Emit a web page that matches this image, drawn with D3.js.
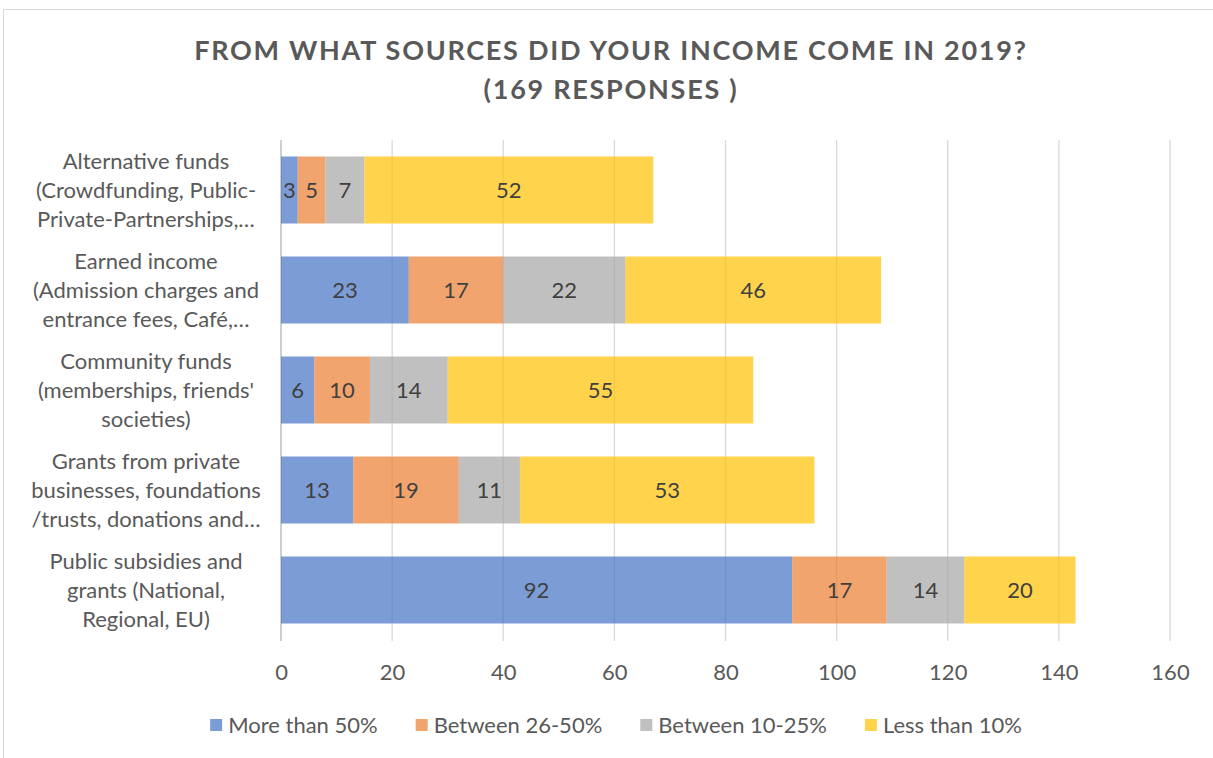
<!DOCTYPE html>
<html>
<head>
<meta charset="utf-8">
<script src="https://cdn.jsdelivr.net/npm/d3@7"></script>
<style>
  html, body { margin: 0; padding: 0; background: #ffffff; }
  svg { display: block; }
  text { font-family: Lato, "Open Sans", sans-serif; }
</style>
</head>
<body>
<svg id="chart" width="1213" height="758"></svg>
<script>
// Income sources, 2019 survey (169 responses)
const categories = [
  "Alternative funds (Crowdfunding, Public-Private-Partnerships,…",
  "Earned income (Admission charges and entrance fees, Café,…",
  "Community funds (memberships, friends' societies)",
  "Grants from private businesses, foundations /trusts, donations and…",
  "Public subsidies and grants (National, Regional, EU)"
];
const categoryLines = [
  ["Alternative funds", "(Crowdfunding, Public-", "Private-Partnerships,…"],
  ["Earned income", "(Admission charges and", "entrance fees, Café,…"],
  ["Community funds", "(memberships, friends'", "societies)"],
  ["Grants from private", "businesses, foundations", "/trusts, donations and…"],
  ["Public subsidies and", "grants (National,", "Regional, EU)"]
];
const seriesNames = ["More than 50%", "Between 26-50%", "Between 10-25%", "Less than 10%"];
const moreThan50   = [3, 23, 6, 13, 92];
const between26_50 = [5, 17, 10, 19, 17];
const between10_25 = [7, 22, 14, 11, 14];
const lessThan10   = [52, 46, 55, 53, 20];
const xTicks = [0, 20, 40, 60, 80, 100, 120, 140, 160];
const titleLines = ["FROM WHAT SOURCES DID YOUR INCOME COME IN 2019?", "(169 RESPONSES )"];
const seriesColors = ["#4472C4", "#ED7D31", "#A5A5A5", "#FFC000"];

const seriesValues = [moreThan50, between26_50, between10_25, lessThan10];
const keys = ["s0", "s1", "s2", "s3"];
const rows = categories.map((c, i) => {
  const r = { category: c };
  keys.forEach((k, j) => r[k] = seriesValues[j][i]);
  return r;
});

const svg = d3.select("#chart");
const textColor = "#595959";
const bodySize = 22;

// chart frame
svg.append("rect")
  .attr("x", 3.5).attr("y", 9.5)
  .attr("width", 1300).attr("height", 900)
  .attr("fill", "#ffffff")
  .attr("stroke", "#d9d9d9").attr("stroke-width", 1);

// title, spaced out to span the chart width
const title = svg.append("g").attr("text-anchor", "middle")
  .attr("fill", textColor).attr("font-weight", "bold")
  .attr("font-family", "'Open Sans', Lato, sans-serif");
const titleTexts = titleLines.map((t, i) => title.append("text")
  .attr("x", 611).attr("y", 60 + i * 39)
  .attr("font-size", 27)
  .text(t));
const w0 = titleTexts[0].node().getComputedTextLength();
const spacing = Math.max(0, (832 - w0) / (titleLines[0].length - 1));
titleTexts.forEach(t => t.attr("letter-spacing", spacing.toFixed(2)));

const x = d3.scaleLinear().domain([0, 160]).range([281, 1170]);
const y = d3.scaleBand().domain(categories).range([140, 640])
  .paddingInner(0.33).paddingOuter(0.165);

// vertical gridlines
svg.append("g")
  .selectAll("line").data(xTicks.filter(d => d !== 0)).join("line")
  .attr("x1", d => x(d)).attr("x2", d => x(d))
  .attr("y1", 140).attr("y2", 641)
  .attr("stroke", "#d9d9d9").attr("stroke-width", 1.3);

// category axis line
svg.append("line")
  .attr("x1", x(0)).attr("x2", x(0))
  .attr("y1", 140).attr("y2", 641)
  .attr("stroke", "#bfbfbf").attr("stroke-width", 1.5);

// stacked bars
const stacked = d3.stack().keys(keys)(rows);
const layers = svg.append("g").selectAll("g").data(stacked).join("g")
  .attr("fill", (d, i) => seriesColors[i])
  .attr("fill-opacity", 0.7);
layers.selectAll("rect").data(d => d).join("rect")
  .attr("x", d => x(d[0]))
  .attr("y", d => y(d.data.category))
  .attr("width", d => x(d[1]) - x(d[0]))
  .attr("height", y.bandwidth());

// value labels
const labels = svg.append("g").attr("text-anchor", "middle")
  .attr("fill", "#404040").attr("font-size", bodySize);
stacked.forEach(layer => {
  layer.forEach(d => {
    labels.append("text")
      .attr("x", (x(d[0]) + x(d[1])) / 2)
      .attr("y", y(d.data.category) + y.bandwidth() / 2)
      .attr("dy", "0.35em")
      .text(d[1] - d[0]);
  });
});

// x axis tick labels
const xAxis = d3.axisBottom(x).tickValues(xTicks).tickSize(0).tickPadding(0);
const gx = svg.append("g").attr("transform", "translate(0,659)").call(xAxis);
gx.select(".domain").remove();
gx.selectAll("text")
  .attr("font-family", "Lato, 'Open Sans', sans-serif")
  .attr("font-size", bodySize).attr("fill", textColor)
  .attr("dy", "0.95em");

// category labels
const cat = svg.append("g").attr("text-anchor", "middle")
  .attr("fill", textColor).attr("font-size", bodySize);
categories.forEach((c, i) => {
  const cy = y(c) + y.bandwidth() / 2;
  const lines = categoryLines[i];
  lines.forEach((t, j) => {
    cat.append("text")
      .attr("x", 146)
      .attr("y", cy + (j - (lines.length - 1) / 2) * 29)
      .attr("dy", "0.35em")
      .text(t);
  });
});

// legend
const legend = svg.append("g").attr("font-size", bodySize).attr("fill", textColor);
const items = seriesNames.map((name, i) => {
  const g = legend.append("g");
  g.append("rect").attr("width", 12).attr("height", 12)
    .attr("y", -6).attr("fill", seriesColors[i]).attr("fill-opacity", 0.7);
  const t = g.append("text").attr("x", 18).attr("dy", "0.35em").text(name);
  return { g, w: 18 + t.node().getComputedTextLength() };
});
const gap = 38;
const total = d3.sum(items, d => d.w) + gap * (items.length - 1);
let lx = 616 - total / 2;
items.forEach(it => {
  it.g.attr("transform", `translate(${lx},725)`);
  lx += it.w + gap;
});
</script>
</body>
</html>
